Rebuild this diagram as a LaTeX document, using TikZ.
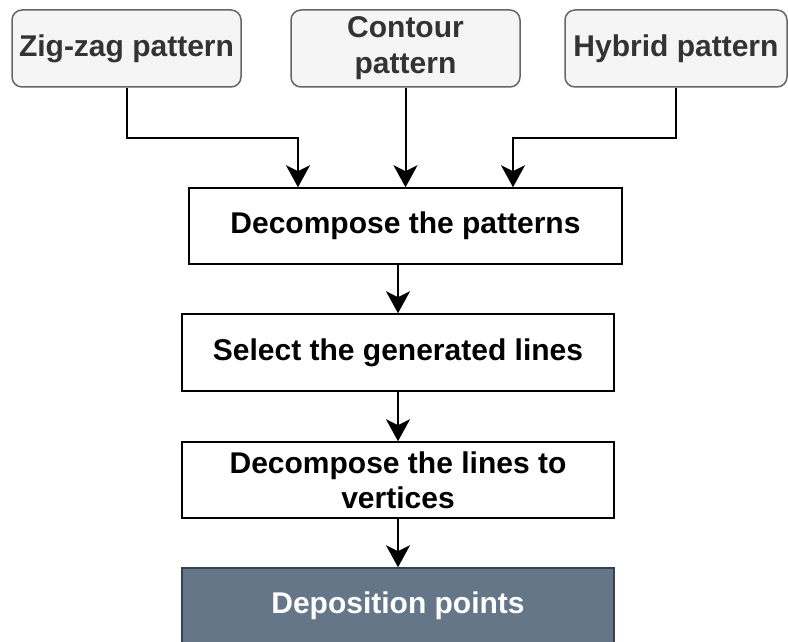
\documentclass[tikz,border=0pt]{standalone}
\usepackage{fontspec}
\setmainfont{Liberation Sans}
\usetikzlibrary{arrows.meta,calc}
\definecolor{topfill}{HTML}{F5F5F5}
\definecolor{topdraw}{HTML}{666666}
\definecolor{toptext}{HTML}{333333}
\definecolor{depfill}{HTML}{647687}
\definecolor{depdraw}{HTML}{314354}
\tikzset{
  topbox/.style={draw=topdraw, fill=topfill, text=toptext, rounded corners=10pt, line width=1.5pt,
    minimum height=77pt, inner sep=2pt, align=center, font=\fontsize{30}{36}\selectfont\bfseries},
  procbox/.style={draw=black, fill=white, line width=1.5pt, minimum width=432pt,
    inner sep=2pt, align=center, font=\fontsize{30}{35}\selectfont\bfseries},
  depbox/.style={procbox, draw=depdraw, fill=depfill, text=white},
  conn/.style={draw=black, line width=2pt, -{Stealth[length=22pt,width=24pt,inset=6pt]}}
}
\begin{document}
\begin{tikzpicture}[x=1pt,y=-1pt]
\useasboundingbox (0,0) rectangle (788,642);
\node[topbox, minimum width=229pt] (zig) at (126.5,48.5) {Zig-zag pattern};
\node[topbox, minimum width=229pt] (con) at (405.5,48.5) {Contour\\pattern};
\node[topbox, minimum width=222pt] (hyb) at (676,48.5) {Hybrid pattern};
\node[procbox, minimum width=433pt, minimum height=76pt] (dp) at (405.5,226) {Decompose the patterns};
\node[procbox, minimum height=77pt] (sel) at (398,352.5) {Select the generated lines};
\node[procbox, minimum height=76pt] (dl) at (398,480) {Decompose the lines to\\vertices};
\node[depbox, minimum height=76pt] (dep) at (398,606) {Deposition points};
\coordinate (t1) at ($(dp.north)+(-107.5,0)$);
\coordinate (t3) at ($(dp.north)+(107.5,0)$);
\draw[conn] (zig.south) -- ++(0,50) -| (t1);
\draw[conn] (con.south) -- (dp.north);
\draw[conn] (hyb.south) -- ++(0,50) -| (t3);
\draw[conn] (dp.south -| sel.north) -- (sel.north);
\draw[conn] (sel.south) -- (dl.north);
\draw[conn] (dl.south) -- (dep.north);
\end{tikzpicture}
\end{document}
